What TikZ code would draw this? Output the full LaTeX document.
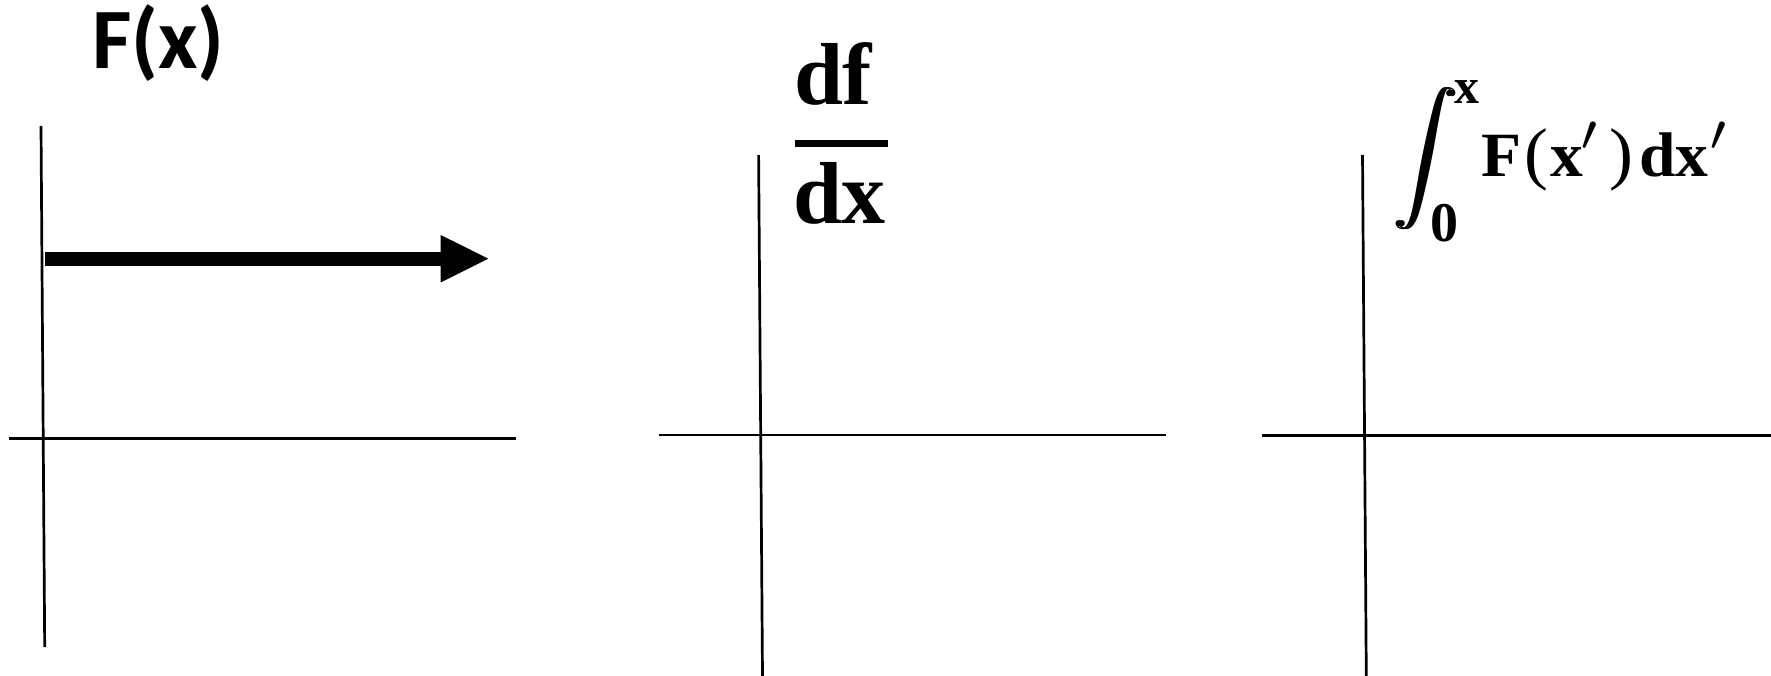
\documentclass[tikz,border=0pt]{standalone}
\usepackage{amsmath}
\usepackage{graphicx}
\usepackage{fontspec}
\setmainfont{Liberation Serif}
\newfontfamily\calfont{Carlito}
\usetikzlibrary{arrows.meta}

\tikzset{
  axisline/.style={line width=2.7pt, draw=black},
  bigarrow/.style={line width=14.3pt, draw=black,
    -{Triangle[length=47.6pt,width=47.4pt,line width=0pt]}},
  fracbar/.style={line width=7pt, draw=black},
  lbl/.style={inner sep=0pt, outer sep=0pt},
  serifbig/.style={lbl, font=\bfseries\fontsize{88}{88}\selectfont},
}
\newcommand{\bigprime}{\scalebox{7.3}{\fontsize{10}{12}\selectfont$'$}}
\newcommand{\intglyph}{\scalebox{6.4}{\fontsize{10}{12}\selectfont$\displaystyle\int$}}

\begin{document}
\begin{tikzpicture}[x=1pt,y=-1pt]
\useasboundingbox (0,0) rectangle (1771,676);

% ---------- panel 1 ----------
\coordinate (v1t) at (41,126);
\coordinate (v1b) at (44.7,647);
\coordinate (h1l) at (9,438.3);
\coordinate (h1r) at (516,438.3);
\draw[axisline] (v1t) -- (v1b);
\draw[axisline] (h1l) -- (h1r);
\coordinate (arrs) at (45,258.7);
\coordinate (arre) at (488.3,258.7);
\draw[bigarrow] (arrs) -- (arre);
\node[lbl, anchor=base west] (fx) at (92,69)
  {\calfont\bfseries\fontsize{86}{86}\selectfont F(x)};

% ---------- panel 2 ----------
\coordinate (v2t) at (758.6,155);
\coordinate (v2b) at (762.5,676);
\coordinate (h2l) at (659,435);
\coordinate (h2r) at (1166,435);
\draw[axisline] (v2t) -- (v2b);
\draw[axisline] (h2l) -- (h2r);
\node[serifbig, anchor=base west] (df) at (794,105) {df};
\coordinate (fbl) at (795,144);
\coordinate (fbr) at (888.3,144);
\draw[fracbar] (fbl) -- (fbr);
\node[serifbig, anchor=base west] (dx) at (793,223.3) {dx};

% ---------- panel 3 ----------
\coordinate (v3t) at (1362.5,155);
\coordinate (v3b) at (1366.3,676);
\coordinate (h3l) at (1262,435.6);
\coordinate (h3r) at (1771,435.6);
\draw[axisline] (v3t) -- (v3b);
\draw[axisline] (h3l) -- (h3r);
\node[lbl] (intsign) at (1426,159) {\rlap{\intglyph}\kern2.5pt\intglyph};
\node[lbl, anchor=base west, font=\bfseries\fontsize{50}{50}\selectfont] (uplim) at (1454,103.3) {x};
\node[lbl, anchor=base west, font=\bfseries\fontsize{56}{56}\selectfont] (lolim) at (1430,241.7) {0};
\node[lbl, anchor=base west, font=\fontsize{63}{63}\selectfont] (integrand) at (1481,176.7)
  {\scalebox{1.04}[1]{\textbf{F}\kern3pt{\mdseries\fontsize{69}{69}\selectfont(}\kern2pt\textbf{x}\kern-2pt\bigprime\kern7pt{\mdseries\fontsize{69}{69}\selectfont)}\kern6pt\textbf{dx}\kern1pt\bigprime}};

\end{tikzpicture}
\end{document}
